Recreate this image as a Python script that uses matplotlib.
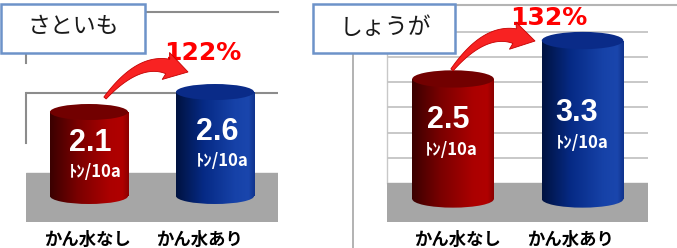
import numpy as np
import matplotlib
matplotlib.use("Agg")
import matplotlib.pyplot as plt
from matplotlib.colors import LinearSegmentedColormap
from matplotlib.patches import Ellipse, Rectangle, Polygon

plt.rcParams['font.family'] = ['Noto Sans CJK JP', 'DejaVu Sans']

# data
crops = ["さといも", "しょうが"]
groups = ["かん水なし", "かん水あり"]
satoimo = [2.1, 2.6]
shouga = [2.5, 3.3]
ratios = ["122%", "132%"]
unit = "ﾄﾝ/10a"

W, H = 677, 248
fig = plt.figure(figsize=(W / 100, H / 100), dpi=100)


def px_rect(x0, y0, x1, y1):
    return [x0 / W, 1 - y1 / H, (x1 - x0) / W, (y1 - y0) / H]


def curved_arrow(axp, S, T, bend=0.32, w0=3, w1=15, hw=28, hl=21):
    # S, T in pixel coords (y down); tapered curved arrow polygon
    S = np.asarray(S, float)
    T = np.asarray(T, float)
    d = T - S
    L = np.hypot(*d)
    nrm = np.array([d[1], -d[0]]) / L
    C = (S + T) / 2 + bend * L * nrm
    u = (T - C) / np.hypot(*(T - C))
    B = T - hl * u
    t = np.linspace(0, 1, 50)[:, None]
    P = (1 - t) ** 2 * S + 2 * (1 - t) * t * C + t ** 2 * B
    dP = 2 * (1 - t) * (C - S) + 2 * t * (B - C)
    dP /= np.hypot(dP[:, 0], dP[:, 1])[:, None]
    N = np.column_stack([dP[:, 1], -dP[:, 0]])
    half = (w0 + (w1 - w0) * t) / 2
    left = P + N * half
    right = P - N * half
    nb = N[-1]
    head = np.array([B + nb * hw / 2 - u * 2, T, B - nb * hw / 2 - u * 2])
    poly = np.vstack([left, head, right[::-1]])
    axp.add_patch(Polygon(poly, closed=True, facecolor="#f82222", edgecolor="#c40000", lw=0.6))


red_cmap = LinearSegmentedColormap.from_list(
    "red", [(0, "#3a0000"), (0.35, "#7a0000"), (0.75, "#ab0000"), (0.92, "#b00000"), (1, "#8a0000")])
blue_cmap = LinearSegmentedColormap.from_list(
    "blue", [(0, "#001240"), (0.35, "#062a85"), (0.75, "#1642a8"), (0.92, "#1a46ad"), (1, "#10338c")])
grad = np.linspace(0, 1, 256).reshape(1, -1)

# background lines (figure pixel coords)
bg = fig.add_axes([0, 0, 1, 1], zorder=0)
bg.set_xlim(0, W)
bg.set_ylim(H, 0)
bg.axis("off")
bg.plot([26, 26], [53, 63], color="#8c8c8c", lw=1.5)
bg.plot([26, 26], [93, 143], color="#8c8c8c", lw=1.5)
bg.plot([145, 278], [12, 12], color="#8c8c8c", lw=1.5)
bg.plot([353, 353], [53, 248], color="#a6a6a6", lw=1.2)
bg.plot([387, 387], [53, 183], color="#c8c8c8", lw=1)
bg.plot([455, 677], [5, 5], color="#b4b4b4", lw=1.5)

# foreground layer for arrows and title boxes
fg = fig.add_axes([0, 0, 1, 1], zorder=3)
fg.set_xlim(0, W)
fg.set_ylim(H, 0)
fg.axis("off")

panels = [
    dict(values=satoimo, rect=(26, 12, 278, 222), xlim=(-0.5, 1.5), ylim=(-0.65, 4.6),
         floor=0.575, grid=[2.575], gcol="#8c8c8c", glw=1.5, width=0.62, ry=0.2,
         val_pos=[(0.01, 1.33), (1.02, 1.6)], unit_pos=[(0.05, 0.6), (1.06, 0.87)],
         pct_pos=(0.9, 3.575), arrow=((0.127, 2.45), (0.786, 3.1)),
         xlab=[(-0.01, -0.086), (0.88, -0.086)]),
    dict(values=shouga, rect=(387, 5, 648, 222), xlim=(-0.51, 1.505), ylim=(-0.479, 4.04),
         floor=0.333, grid=[0.86, 1.38, 1.92, 2.44, 2.96, 3.48], gcol="#c4c4c4", glw=1.3,
         width=0.63, ry=0.18,
         val_pos=[(-0.04, 1.65), (0.957, 1.79)], unit_pos=[(-0.01, 1.02), (0.996, 1.17)],
         pct_pos=(0.741, 3.77), arrow=((-0.008, 2.69), (0.633, 3.29)),
         xlab=[(0.038, -0.083), (0.903, -0.083)]),
]

cmaps = [red_cmap, blue_cmap]
tops = ["#720000", "#0a2b88"]

for p, pct in zip(panels, ratios):
    ax = fig.add_axes(px_rect(*p["rect"]), zorder=1)
    ax.patch.set_alpha(0)
    ax.axis("off")
    ax.axhspan(p["ylim"][0], p["floor"], color="#a6a6a6", zorder=0)
    for g in p["grid"]:
        ax.axhline(g, color=p["gcol"], lw=p["glw"], zorder=0.5)

    xs = np.arange(len(p["values"]))
    w, ry = p["width"], p["ry"]
    bars = ax.bar(xs, p["values"], w, color="none", edgecolor="none", zorder=2)
    for i, (b, v) in enumerate(zip(bars, p["values"])):
        x = xs[i]
        base = Ellipse((x, 0), w, 2 * ry, facecolor="none", edgecolor="none")
        ax.add_patch(base)
        for clip in (b, base):
            im = ax.imshow(grad, extent=(x - w / 2, x + w / 2, -ry, v), cmap=cmaps[i],
                           aspect="auto", zorder=2, interpolation="bilinear")
            im.set_clip_path(clip)
        ax.add_patch(Ellipse((x, v), w, 2 * ry, facecolor=tops[i], edgecolor="none", zorder=3))

        vx, vy = p["val_pos"][i]
        ax.text(vx, vy, f"{v:.1f}", color="white", fontsize=22, fontweight="bold",
                family="Liberation Sans", ha="center", va="center", zorder=5)
        ux, uy = p["unit_pos"][i]
        ax.text(ux, uy, unit, color="white", fontsize=12, fontweight="bold",
                ha="center", va="center", zorder=5)
        lx, ly = p["xlab"][i]
        ax.text(lx, ly, groups[i], transform=ax.get_xaxis_transform(), fontsize=12.5,
                fontweight="bold", ha="center", va="center", clip_on=False)

    ax.set_xlim(*p["xlim"])
    ax.set_ylim(*p["ylim"])

    pts = []
    for pt in p["arrow"]:
        dx, dy = ax.transData.transform(pt)
        pts.append((dx, H - dy))
    curved_arrow(fg, pts[0], pts[1])

    px_, py_ = p["pct_pos"]
    ax.text(px_, py_, pct, color="#ff0000", fontsize=18, fontweight="bold",
            family="DejaVu Sans", ha="center", va="center", zorder=5)

# title boxes
for (x0, x1, cx), name in zip([(1, 145, 73), (313, 455, 385)], crops):
    fg.add_patch(Rectangle((x0, 4), x1 - x0, 49, facecolor="white", edgecolor="#6d93c9", lw=1.8))
    fg.text(cx, 27, name, fontsize=16.5, ha="center", va="center", color="#1a1a1a")

plt.savefig("out.png", dpi=100)
